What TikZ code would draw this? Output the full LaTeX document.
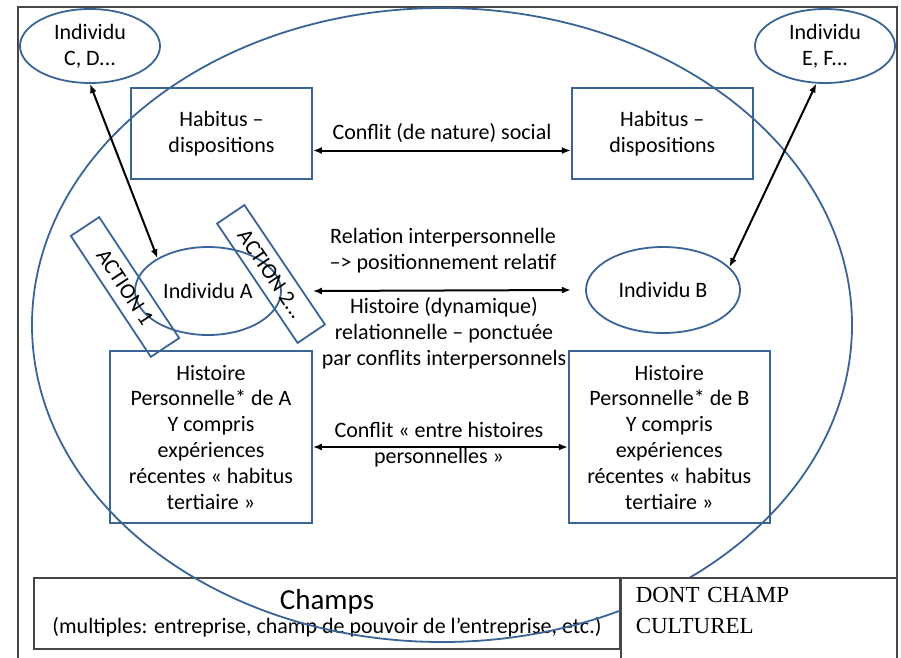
\documentclass[tikz,border=0pt]{standalone}
\usepackage{fontspec}
\setmainfont{Carlito}
\newfontfamily\timesfont{Liberation Serif}
\usetikzlibrary{arrows.meta,positioning,shapes.geometric}
\definecolor{fieldblue}{RGB}{58,100,150}
\definecolor{framegray}{RGB}{70,70,70}
\tikzset{
  bluebox/.style={draw=fieldblue,line width=1.8pt,inner sep=0pt,align=center},
  blueellipse/.style={ellipse,draw=fieldblue,line width=1.8pt,inner sep=0pt,align=center},
  actionbox/.style={draw=fieldblue,line width=1.8pt,inner sep=0pt,minimum width=145pt,minimum height=34pt},
  arr/.style={{Latex[length=9pt,width=7pt]}-{Latex[length=9pt,width=7pt]},line width=2pt},
  lbl/.style={align=center}
}
\begin{document}
\begin{tikzpicture}[x=1pt,y=-1pt,every node/.style={font=\fontsize{22}{25.8}\selectfont}]
  \useasboundingbox (0,0) rectangle (901,657);
  % outer frame, open at the bottom
  \draw[framegray,line width=1.8pt] (18,670) -- (18,7) -- (897,7) -- (897,670);
  % champs
  \node(champs) [draw=framegray,line width=1.5pt,minimum width=586pt,minimum height=71pt,inner sep=0pt,align=center] at (327,613.5)
    {{\fontsize{29}{31}\selectfont Champs}\\[-2pt]{\fontsize{22}{24}\selectfont (multiples: entreprise, champ de pouvoir de l’entreprise, etc.)}};
  % big field
  \node(field) [blueellipse,minimum width=820pt,minimum height=634pt] at (442,325) {};
  \node(culturel) [anchor=north west,draw=framegray,line width=1.5pt,fill=white,text width=246pt,align=left,inner xsep=15pt,inner ysep=10pt,text depth=60pt,font=\timesfont\fontsize{23}{31}\selectfont] at (620,577) {DONT CHAMP\\CULTUREL};
  % individuals outside
  \node(CD) [blueellipse,minimum width=140pt,minimum height=74pt] at (90,46) {Individu\\C, D...};
  \node(EF) [blueellipse,minimum width=140pt,minimum height=74pt] at (825,46) {Individu\\E, F...};
  % habitus
  \node(habA) [bluebox,minimum width=181pt,minimum height=91pt] at (221.5,133.5) {Habitus –\\dispositions};
  \node(habB) [bluebox,minimum width=181pt,minimum height=91pt,right=258pt of habA] {Habitus –\\dispositions};
  % individuals A and B
  \node(indA) [blueellipse,minimum width=146pt,minimum height=88pt] at (208,291) {Individu A};
  \node(indB) [blueellipse,minimum width=154pt,minimum height=86pt] at (663,290) {Individu B};
  \node(act1) [actionbox,rotate=-56.5] at (125,287) {ACTION 1};
  \node(act2) [actionbox,minimum width=144pt,minimum height=33pt,rotate=-56] at (271,274) {ACTION 2...};
  % histoires
  \node(histA) [bluebox,minimum width=202pt,minimum height=172pt] at (211,437)
    {Histoire\\Personnelle* de A\\Y compris\\expériences\\récentes « habitus\\tertiaire »};
  \node(histB) [bluebox,minimum width=201pt,minimum height=172pt,right=255pt of histA]
    {Histoire\\Personnelle* de B\\Y compris\\expériences\\récentes « habitus\\tertiaire »};
  % connectors
  \draw[arr] (indA.147) -- (CD.south);
  \draw[arr] (indB.19) -- (EF.257);
  \draw[arr] ([yshift=-17pt]habA.east) -- ([yshift=-17pt]habB.west);
  \draw[arr] (habA.east |- indA) -- (habB.west |- indB);
  \draw[arr] ([yshift=-10pt]histA.east) -- ([yshift=-10pt]histB.west);
  % labels
  \node(social) [lbl] at (442,133) {Conflit (de nature) social};
  \node(relation) [lbl] at (443,251) {Relation interpersonnelle\\–> positionnement relatif};
  \node(dynamique) [lbl] at (444,333) {Histoire (dynamique)\\relationnelle – ponctuée\\par conflits interpersonnels};
  \node(entre) [lbl] at (439,445) {Conflit « entre histoires\\personnelles »};
\end{tikzpicture}
\end{document}
